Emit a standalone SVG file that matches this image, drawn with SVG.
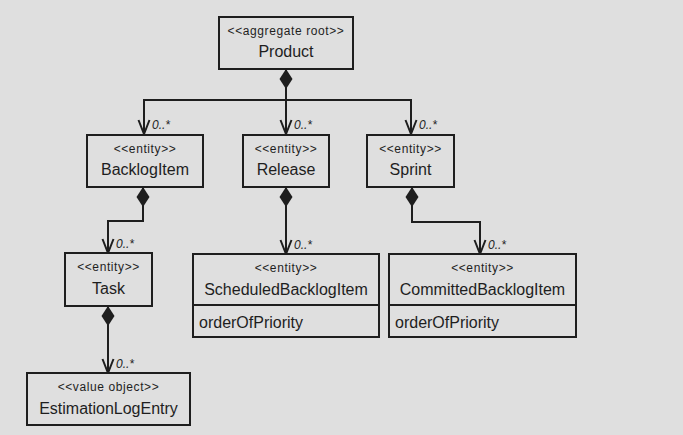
<svg xmlns="http://www.w3.org/2000/svg" width="683" height="435" viewBox="0 0 683 435">
<style>
.bg{fill:#dfdfdf}
.box{fill:#dfdfdf;stroke:#1e1e1e;stroke-width:2}
.st{font-family:"Liberation Sans",Arial,sans-serif;font-size:12px;letter-spacing:0.6px;fill:#1e1e1e;text-anchor:middle}
.nm{font-family:"Liberation Sans",Arial,sans-serif;font-size:16px;fill:#1e1e1e;text-anchor:middle}
.at{font-family:"Liberation Sans",Arial,sans-serif;font-size:16px;fill:#1e1e1e}
.ml{font-family:"Liberation Sans",Arial,sans-serif;font-size:12px;font-style:italic;fill:#1e1e1e}
.cn{fill:none;stroke:#1e1e1e;stroke-width:2}
</style>
<defs>
<marker id="dia" markerUnits="userSpaceOnUse" viewBox="0 -7 20 14" refX="0" refY="0" markerWidth="20" markerHeight="14" orient="auto" overflow="visible">
<path d="M0,0 L10,-6.5 L20,0 L10,6.5 Z" fill="#1e1e1e"/>
</marker>
<marker id="arr" markerUnits="userSpaceOnUse" viewBox="-16 -8 18 16" refX="0" refY="0" markerWidth="18" markerHeight="16" orient="auto" overflow="visible">
<path d="M-14,-5.5 L0,0 L-14,5.5" fill="none" stroke="#1e1e1e" stroke-width="2"/>
</marker>
</defs>
<rect class="bg" x="0" y="0" width="683" height="435"/>
<g id="connectors">
<path class="cn" d="M286,69 V134" marker-start="url(#dia)" marker-end="url(#arr)"/>
<path class="cn" d="M286,100 H144 V134" marker-end="url(#arr)"/>
<path class="cn" d="M286,100 H411 V134" marker-end="url(#arr)"/>
<path class="cn" d="M143,187 V221 H108 V253" marker-start="url(#dia)" marker-end="url(#arr)"/>
<path class="cn" d="M286,187 V254" marker-start="url(#dia)" marker-end="url(#arr)"/>
<path class="cn" d="M412,187 V222 H480 V254" marker-start="url(#dia)" marker-end="url(#arr)"/>
<path class="cn" d="M108,306 V373" marker-start="url(#dia)" marker-end="url(#arr)"/>
<text class="ml" x="152" y="129">0..*</text>
<text class="ml" x="294" y="129">0..*</text>
<text class="ml" x="419" y="129">0..*</text>
<text class="ml" x="116" y="248">0..*</text>
<text class="ml" x="294" y="249">0..*</text>
<text class="ml" x="488" y="249">0..*</text>
<text class="ml" x="116" y="368">0..*</text>
</g>
<g id="product">
<rect class="box" x="219" y="17" width="134" height="52"/>
<text class="st" x="286" y="35">&lt;&lt;aggregate root&gt;&gt;</text>
<text class="nm" x="286" y="57">Product</text>
</g>
<g id="backlogitem">
<rect class="box" x="87" y="135" width="116" height="52"/>
<text class="st" x="145" y="153">&lt;&lt;entity&gt;&gt;</text>
<text class="nm" x="145" y="175">BacklogItem</text>
</g>
<g id="release">
<rect class="box" x="243" y="135" width="86" height="52"/>
<text class="st" x="286" y="153">&lt;&lt;entity&gt;&gt;</text>
<text class="nm" x="286" y="175">Release</text>
</g>
<g id="sprint">
<rect class="box" x="367" y="135" width="87" height="52"/>
<text class="st" x="410.5" y="153">&lt;&lt;entity&gt;&gt;</text>
<text class="nm" x="410.5" y="175">Sprint</text>
</g>
<g id="task">
<rect class="box" x="65" y="253" width="87" height="53"/>
<text class="st" x="108.5" y="271">&lt;&lt;entity&gt;&gt;</text>
<text class="nm" x="108.5" y="294">Task</text>
</g>
<g id="estimationlogentry">
<rect class="box" x="27" y="373" width="163" height="52"/>
<text class="st" x="108.5" y="391">&lt;&lt;value object&gt;&gt;</text>
<text class="nm" x="108.5" y="414">EstimationLogEntry</text>
</g>
<g id="scheduledbacklogitem">
<rect class="box" x="193" y="254" width="186" height="83"/>
<line class="box" x1="193" y1="305" x2="379" y2="305"/>
<text class="st" x="286" y="272">&lt;&lt;entity&gt;&gt;</text>
<text class="nm" x="286" y="295">ScheduledBacklogItem</text>
<text class="at" x="199" y="328">orderOfPriority</text>
</g>
<g id="committedbacklogitem">
<rect class="box" x="389" y="254" width="187" height="83"/>
<line class="box" x1="389" y1="305" x2="576" y2="305"/>
<text class="st" x="482.5" y="272">&lt;&lt;entity&gt;&gt;</text>
<text class="nm" x="482.5" y="295">CommittedBacklogItem</text>
<text class="at" x="395" y="328">orderOfPriority</text>
</g>
</svg>
